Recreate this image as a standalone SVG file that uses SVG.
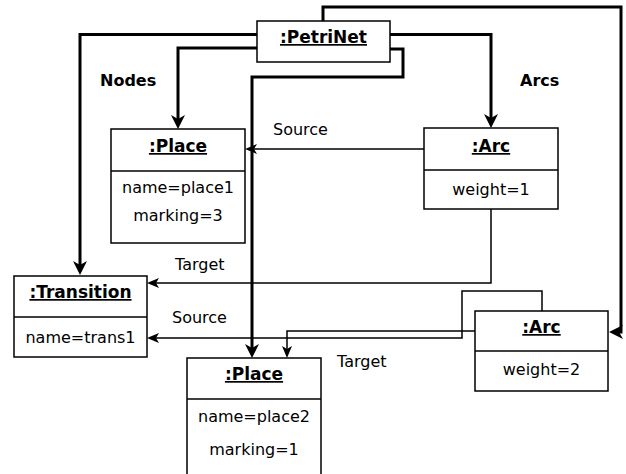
<svg xmlns="http://www.w3.org/2000/svg" width="626" height="474" viewBox="0 0 626 474">
<style>
  .box { fill: #fff; stroke: #000; stroke-width: 1.5; }
  .div { stroke: #000; stroke-width: 1.5; }
  .title { font-family: "DejaVu Sans", Verdana, sans-serif; font-size: 17px; font-weight: bold; text-anchor: middle; text-decoration: underline; fill: #000; }
  .attr { font-family: "DejaVu Sans", Verdana, sans-serif; font-size: 16px; text-anchor: middle; fill: #000; }
  .lbl { font-family: "DejaVu Sans", Verdana, sans-serif; font-size: 16px; fill: #000; }
  .lblb { font-family: "DejaVu Sans", Verdana, sans-serif; font-size: 16px; font-weight: bold; fill: #000; }
  .thick { fill: none; stroke: #000; stroke-width: 3; marker-end: url(#ah); }
  .thin { fill: none; stroke: #000; stroke-width: 1.5; marker-end: url(#at); }
</style>
<defs>
  <marker id="ah" viewBox="0 0 14 14" refX="6" refY="7" markerWidth="14" markerHeight="14" markerUnits="userSpaceOnUse" orient="auto">
    <path d="M0,0 L14,7 L0,14 L4,7 z" fill="#000"/>
  </marker>
  <marker id="at" viewBox="0 0 12 10" refX="5" refY="5" markerWidth="12" markerHeight="10" markerUnits="userSpaceOnUse" orient="auto">
    <path d="M0,0 L12,5 L0,10 L3,5 z" fill="#000"/>
  </marker>
</defs>
<rect width="626" height="474" fill="#fff"/>
<g id="connectors">
  <path class="thick" d="M257,34.5 H80 V267"/>
  <path class="thick" d="M257,48 H178 V121"/>
  <path class="thick" d="M390,34.5 H491 V120"/>
  <path class="thick" d="M390,49 H403 V77 H252 V350"/>
  <path class="thick" d="M323,21 V7 H621 V332 H617"/>
  <path class="thin" d="M424,149 H252"/>
  <path class="thin" d="M491,209 V283 H154"/>
  <path class="thin" d="M542,311 V291 H462 V338 H154"/>
  <path class="thin" d="M475,331 H287 V351"/>
  <text class="lblb" x="100" y="86">Nodes</text>
  <text class="lblb" x="520" y="86">Arcs</text>
  <text class="lbl" x="273" y="135">Source</text>
  <text class="lbl" x="175" y="270">Target</text>
  <text class="lbl" x="172" y="323">Source</text>
  <text class="lbl" x="337" y="367">Target</text>
</g>
<g id="petrinet">
  <rect class="box" x="257" y="21" width="133" height="41"/>
  <text class="title" x="323.5" y="43">:PetriNet</text>
</g>
<g id="place1">
  <rect class="box" x="111" y="129" width="134" height="114"/>
  <line class="div" x1="111" y1="171" x2="245" y2="171"/>
  <text class="title" x="178" y="152">:Place</text>
  <text class="attr" x="178" y="193">name=place1</text>
  <text class="attr" x="178" y="221">marking=3</text>
</g>
<g id="arc1">
  <rect class="box" x="424" y="128" width="134" height="81"/>
  <line class="div" x1="424" y1="170" x2="558" y2="170"/>
  <text class="title" x="491" y="152">:Arc</text>
  <text class="attr" x="491" y="195">weight=1</text>
</g>
<g id="transition">
  <rect class="box" x="14" y="276" width="133" height="81"/>
  <line class="div" x1="14" y1="317" x2="147" y2="317"/>
  <text class="title" x="80.5" y="298">:Transition</text>
  <text class="attr" x="80.5" y="343">name=trans1</text>
</g>
<g id="arc2">
  <rect class="box" x="475" y="311" width="133" height="80"/>
  <line class="div" x1="475" y1="351" x2="608" y2="351"/>
  <text class="title" x="541.5" y="333">:Arc</text>
  <text class="attr" x="541.5" y="375">weight=2</text>
</g>
<g id="place2">
  <rect class="box" x="187" y="358" width="134" height="130"/>
  <line class="div" x1="187" y1="399" x2="321" y2="399"/>
  <text class="title" x="254" y="380">:Place</text>
  <text class="attr" x="254" y="422">name=place2</text>
  <text class="attr" x="254" y="455">marking=1</text>
</g>
</svg>
